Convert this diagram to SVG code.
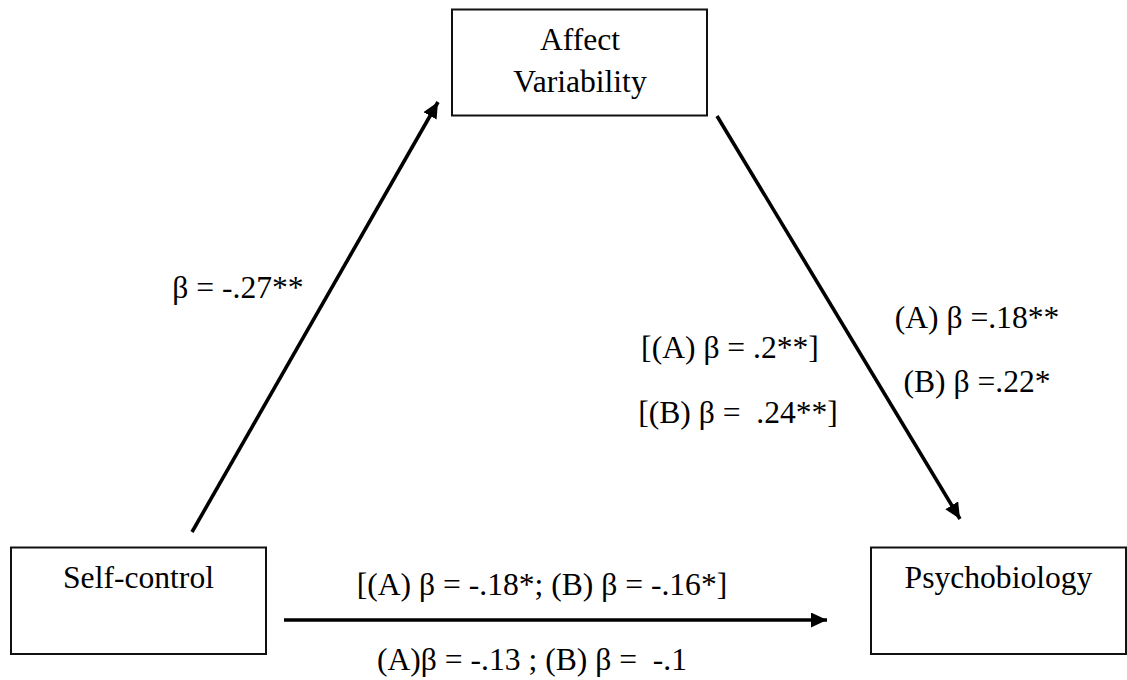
<svg xmlns="http://www.w3.org/2000/svg" width="1127" height="680" viewBox="0 0 1127 680">
<style>
.box{fill:#fff;stroke:#111;stroke-width:2}
text{font-family:'Liberation Serif','DejaVu Serif',serif;font-size:31.6px;fill:#000;text-anchor:middle;white-space:pre}
.c{stroke:#000;stroke-width:3.6;fill:none;marker-end:url(#ah)}
</style>
<defs>
<marker id="ah" markerUnits="userSpaceOnUse" markerWidth="18" markerHeight="16" refX="16" refY="7.5" orient="auto">
<path d="M0,0 L16,7.5 L0,15 z" fill="#000"/>
</marker>
</defs>
<rect width="1127" height="680" fill="#fff"/>
<g id="affect">
<rect class="box" x="452" y="9.5" width="255" height="106"/>
<text x="580" y="50">Affect</text>
<text x="580" y="92">Variability</text>
</g>
<g id="selfcontrol">
<rect class="box" x="11" y="547.5" width="255" height="106.5"/>
<text x="138.5" y="588">Self-control</text>
</g>
<g id="psychobiology">
<rect class="box" x="871" y="547.5" width="255" height="106.5"/>
<text x="998.5" y="588">Psychobiology</text>
</g>
<g id="connectors">
<line class="c" x1="192" y1="532" x2="438" y2="102"/>
<line class="c" x1="717" y1="116" x2="960" y2="519"/>
<line class="c" x1="284" y1="620" x2="827" y2="620"/>
</g>
<g id="labels">
<text x="238" y="298">β = -.27**</text>
<text x="730" y="358">[(A) β = .2**]</text>
<text x="738" y="423">[(B) β =  .24**]</text>
<text x="977" y="328">(A) β =.18**</text>
<text x="977" y="392">(B) β =.22*</text>
<text x="542" y="595">[(A) β = -.18*; (B) β = -.16*]</text>
<text x="532" y="670">(A)β = -.13 ; (B) β =  -.1</text>
</g>
</svg>
